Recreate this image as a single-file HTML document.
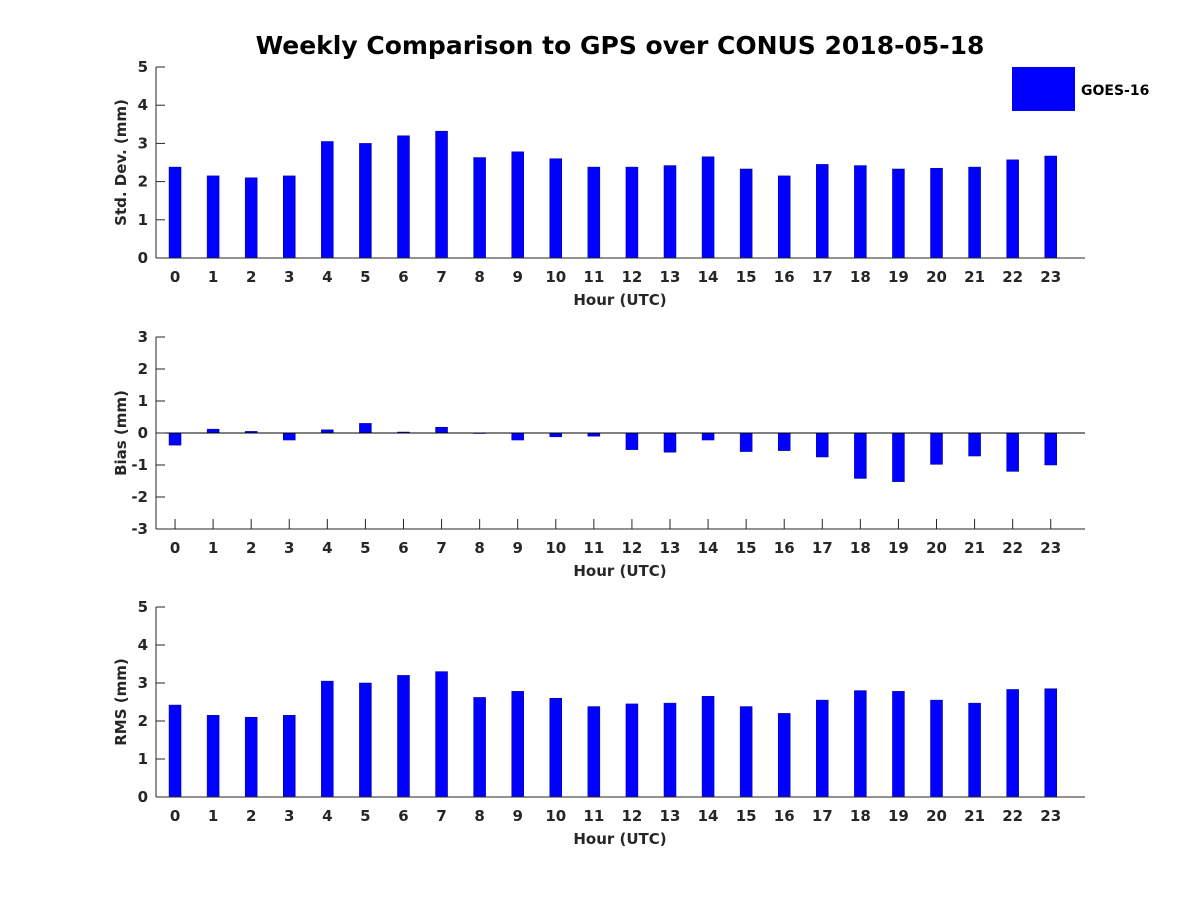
<!DOCTYPE html>
<html><head><meta charset="utf-8"><style>
body{margin:0;background:#fff}
svg text{font-family:"DejaVu Sans","Liberation Sans",sans-serif;font-weight:bold;fill:#262626}
</style></head><body>
<svg id="chart" width="1200" height="900" xmlns="http://www.w3.org/2000/svg">
<text x="620" y="54" text-anchor="middle" font-size="25" style="fill:#000">Weekly Comparison to GPS over CONUS 2018-05-18</text>
<rect x="1012" y="67" width="63" height="44" fill="#0000ff"/>
<text x="1081" y="95" font-size="14" style="fill:#000">GOES-16</text>
</svg>
<script>
const hours=[0,1,2,3,4,5,6,7,8,9,10,11,12,13,14,15,16,17,18,19,20,21,22,23];
const stdValues=[2.38,2.15,2.1,2.15,3.05,3.0,3.2,3.32,2.63,2.78,2.6,2.38,2.38,2.42,2.65,2.33,2.15,2.45,2.42,2.33,2.35,2.38,2.57,2.67];
const biasValues=[-0.38,0.12,0.05,-0.22,0.1,0.3,0.03,0.18,0,-0.22,-0.12,-0.1,-0.52,-0.6,-0.22,-0.58,-0.55,-0.75,-1.42,-1.52,-0.98,-0.72,-1.2,-1.0];
const rmsValues=[2.42,2.15,2.1,2.15,3.05,3.0,3.2,3.3,2.62,2.78,2.6,2.38,2.45,2.47,2.65,2.38,2.2,2.55,2.8,2.78,2.55,2.47,2.83,2.85];
const stdTicks=[0,1,2,3,4,5];
const biasTicks=[-3,-2,-1,0,1,2,3];
const rmsTicks=[0,1,2,3,4,5];
const svg=document.getElementById('chart');
const NS='http://www.w3.org/2000/svg';
function mk(tag,attrs){const e=document.createElementNS(NS,tag);for(const k in attrs)e.setAttribute(k,attrs[k]);svg.appendChild(e);return e;}
const L=156,R=1085;
function xs(h){return L+(h+0.5)*(R-L)/24.4;}
function panel(name,top,bot,ymin,ymax,ticks,vals,ylabel){
  const ys=v=>bot-(v-ymin)*(bot-top)/(ymax-ymin);
  hours.forEach(h=>{
    mk('line',{x1:xs(h),y1:bot,x2:xs(h),y2:bot-10,stroke:'#262626'});
  });
  vals.forEach((v,i)=>{
    const y0=ys(Math.max(0,ymin)),y1=ys(v);
    const r=mk('rect',{x:xs(hours[i])-6,y:Math.min(y0,y1),width:12,height:Math.max(Math.abs(y1-y0),0.5),fill:'#0000ff',stroke:'#00008b','stroke-width':0.5});
    
    
  });
  let a=mk('line',{x1:L,y1:top,x2:L,y2:bot,stroke:'#262626','stroke-width':1});
  
  a=mk('line',{x1:L,y1:bot,x2:R,y2:bot,stroke:'#262626','stroke-width':1});
  
  if(ymin<0){a=mk('line',{x1:L,y1:ys(0),x2:R,y2:ys(0),stroke:'#000','stroke-width':1});
    }
  ticks.forEach(t=>{
    mk('line',{x1:L,y1:ys(t),x2:L+9,y2:ys(t),stroke:'#262626'});
    const tx=mk('text',{x:L-8,y:ys(t)+5,'text-anchor':'end','font-size':15});
    tx.textContent=t;
    
    
  });
  hours.forEach(h=>{
    const tx=mk('text',{x:xs(h),y:bot+24,'text-anchor':'middle','font-size':15});
    tx.textContent=h;
    
    
  });
  let t=mk('text',{x:620,y:bot+47,'text-anchor':'middle','font-size':15});
  t.textContent='Hour (UTC)';
  
  const cy=(top+bot)/2;
  t=mk('text',{x:126,y:cy,'text-anchor':'middle','font-size':15,transform:'rotate(-90 126 '+cy+')'});
  t.textContent=ylabel;
  
}
panel('std',67,258,0,5,stdTicks,stdValues,'Std. Dev. (mm)');
panel('bias',337,529,-3,3,biasTicks,biasValues,'Bias (mm)');
panel('rms',607,797,0,5,rmsTicks,rmsValues,'RMS (mm)');
</script>
</body></html>
